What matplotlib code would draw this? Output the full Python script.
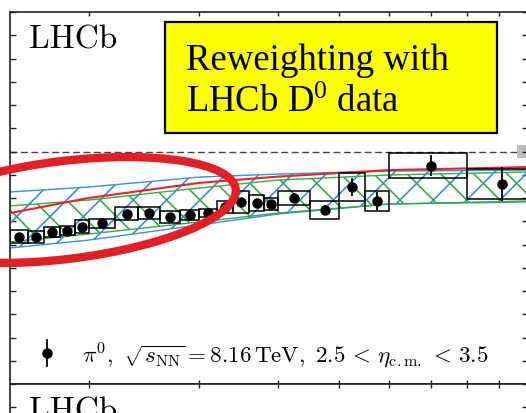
import matplotlib
matplotlib.use("Agg")
import matplotlib.pyplot as plt
from matplotlib.patches import Rectangle, Ellipse
import numpy as np

plt.rcParams['mathtext.fontset'] = 'custom'
plt.rcParams['mathtext.rm'] = 'Liberation Serif'
plt.rcParams['mathtext.it'] = 'Liberation Serif:italic'
plt.rcParams['hatch.linewidth'] = 1.2

# ---------------- data ----------------
bin_lo = [1.5, 1.6, 1.7, 1.8, 1.9, 2.0, 2.2, 2.4, 2.6, 2.8, 3.0, 3.2, 3.4, 3.6, 3.8, 4.0, 4.5, 5.0, 5.5, 6.0, 8.0]
bin_hi = [1.6, 1.7, 1.8, 1.9, 2.0, 2.2, 2.4, 2.6, 2.8, 3.0, 3.2, 3.4, 3.6, 3.8, 4.0, 4.5, 5.0, 5.5, 6.0, 8.0, 10.0]
pt = [1.55, 1.65, 1.75, 1.85, 1.95, 2.1, 2.3, 2.5, 2.7, 2.9, 3.1, 3.3, 3.5, 3.7, 3.9, 4.25, 4.75, 5.25, 5.75, 7.0, 9.1]
rppb = [0.634, 0.631, 0.655, 0.659, 0.677, 0.691, 0.733, 0.735, 0.718, 0.727, 0.735, 0.761, 0.783, 0.778,
        0.774, 0.800, 0.748, 0.847, 0.787, 0.938, 0.860]
stat = [0.006, 0.006, 0.006, 0.006, 0.006, 0.006, 0.007, 0.007, 0.007, 0.008, 0.008, 0.009, 0.015, 0.012,
        0.012, 0.022, 0.022, 0.037, 0.040, 0.045, 0.073]
syst = [0.028, 0.026, 0.022, 0.020, 0.028, 0.019, 0.028, 0.026, 0.024, 0.022, 0.017, 0.024, 0.047, 0.034,
        0.026, 0.032, 0.039, 0.060, 0.045, 0.054, 0.065]

band_pt = [1.5, 2.0, 3.0, 4.0, 6.0, 10.0]
prior_hi = [0.826, 0.847, 0.890, 0.903, 0.916, 0.920]
prior_lo = [0.585, 0.619, 0.684, 0.731, 0.774, 0.783]
rew_hi = [0.766, 0.791, 0.843, 0.877, 0.899, 0.912]
rew_lo = [0.611, 0.645, 0.697, 0.735, 0.774, 0.787]
red_curve = [0.735, 0.800, 0.865, 0.892, 0.920, 0.933]

norm_pt = (9.6, 10.0)
norm_unc = 0.03

legend_label = (r'$\pi^0,\ \sqrt{s_{\mathrm{NN}}} = 8.16\,\mathrm{TeV},\ 2.5\,<\,'
                r'\eta_{\mathrm{c.m.}}\,<\,3.5$')
box_line1 = "Reweighting with"
box_line2 = r"LHCb D$^{0}$ data"

# ---------------- figure ----------------
W, H = 526, 413
fig = plt.figure(figsize=(W / 100, H / 100), dpi=100)
ax = fig.add_axes([10 / W, 29 / H, 518 / W, 372 / H])
ax2 = fig.add_axes([10 / W, 29 / H - 372 / H, 518 / W, 372 / H])

for a in (ax, ax2):
    a.set_xscale('log')
    a.set_xlim(1.5, 10)
    a.set_ylim(0, 1.6)
    a.set_yticks(np.arange(0, 1.61, 0.1))
    a.tick_params(which='both', direction='in', top=True, right=True,
                  labelleft=False, labelbottom=False, color='#222222', width=1.0)
    a.tick_params(which='major', length=4.5)
    a.tick_params(which='minor', length=3.0)
    for s in a.spines.values():
        s.set_linewidth(1.2)
        s.set_color('#222222')
    a.text(0.0367, 0.9032, 'LHCb', transform=a.transAxes, fontfamily='cmr10',
           fontsize=24, va='baseline', ha='left')

ax.axhline(1.0, color='#444444', lw=1.0, ls=(0, (5, 2.5)), zorder=1)
ax.add_patch(Rectangle((norm_pt[0], 1 - norm_unc), norm_pt[1] - norm_pt[0], 2 * norm_unc,
                       fc='#bdbdbd', ec='none', zorder=1.5))

ax.fill_between(band_pt, prior_lo, prior_hi, facecolor='none', edgecolor='#3a8ed6',
                hatch='/', lw=1.0, zorder=2)
ax.fill_between(band_pt, rew_lo, rew_hi, facecolor='none', edgecolor='#36a846',
                hatch='\\', lw=1.0, zorder=2.1)
ax.plot(band_pt, red_curve, color='#e5232b', lw=1.5, zorder=3)

for lo, hi, y, s in zip(bin_lo, bin_hi, rppb, syst):
    ax.add_patch(Rectangle((lo, y - s), hi - lo, 2 * s, fill=False, ec='black', lw=1.1, zorder=4))
ax.errorbar(pt, rppb, yerr=stat, fmt='o', color='black', ms=6.5, elinewidth=1.3,
            capsize=0, zorder=5)

# legend (manual)
lx, ly = 0.0714, 0.0833
ax.plot([lx], [ly], 'o', color='black', ms=6.5, transform=ax.transAxes, zorder=6)
ax.plot([lx, lx], [ly - 0.035, ly + 0.035], color='black', lw=1.3, transform=ax.transAxes, zorder=6)
ax.text(0.139, 0.0591, legend_label, transform=ax.transAxes, fontsize=16.6,
        math_fontfamily='cm', va='baseline', ha='left')

# yellow annotation box
fig.add_artist(Rectangle((165 / W, 1 - 133 / H), (497 - 165) / W, (133 - 22) / H,
                         transform=fig.transFigure, fc='#ffff00', ec='black', lw=1.6, zorder=8))
fig.text(186 / W, 1 - 70 / H, box_line1, fontfamily='Liberation Serif', fontsize=26.5,
         va='baseline', ha='left', zorder=9)
fig.text(186 / W, 1 - 112 / H, box_line2, fontfamily='Liberation Serif', fontsize=26.5,
         va='baseline', ha='left', zorder=9)

# red highlight ellipse
fig.add_artist(Ellipse((0.65, (H - 210) / 100), 3.44, 0.98, angle=7,
                       transform=fig.dpi_scale_trans, fill=False, ec='#e31e24', lw=6, zorder=10))

fig.savefig('out.png', dpi=100)
